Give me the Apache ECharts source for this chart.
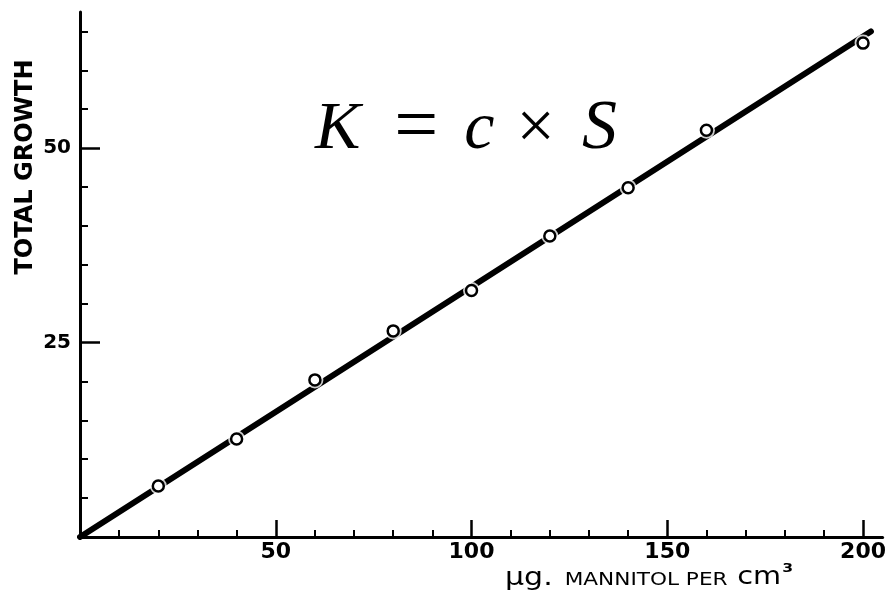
<!DOCTYPE html>
<html>
<head>
<meta charset="utf-8">
<script src="https://cdn.jsdelivr.net/npm/echarts@6/dist/echarts.min.js"></script>
<style>
  html, body { margin: 0; padding: 0; background: #fff; }
  #chart { width: 889px; height: 596px; }
</style>
</head>
<body>
<div id="chart"></div>
<script>
// Mannitol concentration (µg per cm³) and measured total growth
const mannitol = [20, 40, 60, 80, 100, 120, 140, 160, 200];
const growth = [6.55, 12.6, 20.2, 26.5, 31.7, 38.7, 44.9, 52.3, 63.5];

// Proportional fit line K = c × S, drawn through the origin
const fitX = [0, 202];
const fitY = [0, 65];

// Tick positions
const xMajorTicks = [50, 100, 150, 200];
const xMinorTicks = [10, 20, 30, 40, 60, 70, 80, 90, 110, 120, 130, 140, 160, 170, 180, 190];
const yMajorTicks = [25, 50];
const yMinorTicks = [5, 10, 15, 20, 30, 35, 40, 45, 55, 60, 65];

const points = mannitol.map((x, i) => [x, growth[i]]);
const fitLine = fitX.map((x, i) => [x, fitY[i]]);

const labelFont = { color: '#000', fontFamily: 'DejaVu Sans', fontWeight: 'bold' };

const chart = echarts.init(document.getElementById('chart'), null, { renderer: 'canvas' });

chart.setOption({
  animation: false,
  backgroundColor: '#fff',
  grid: { left: 80, right: 3.4, top: 12, bottom: 59, containLabel: false },
  xAxis: [
    {
      type: 'value', min: 0, max: 205, position: 'bottom',
      axisLine: { show: true, onZero: false, lineStyle: { color: '#000', width: 3 } },
      axisTick: { show: true, inside: true, length: 17, customValues: xMajorTicks,
        lineStyle: { color: '#000', width: 2.5 } },
      axisLabel: Object.assign({ customValues: xMajorTicks, fontSize: 22, margin: 4 }, labelFont),
      splitLine: { show: false }
    },
    {
      type: 'value', min: 0, max: 205, position: 'bottom',
      axisLine: { show: false, onZero: false },
      axisTick: { show: true, inside: true, length: 7, customValues: xMinorTicks,
        lineStyle: { color: '#000', width: 2 } },
      axisLabel: { show: false },
      splitLine: { show: false }
    }
  ],
  yAxis: [
    {
      type: 'value', min: 0, max: 67.5, position: 'left',
      axisLine: { show: true, onZero: false, lineStyle: { color: '#000', width: 3 } },
      axisTick: { show: true, inside: true, length: 20, customValues: yMajorTicks,
        lineStyle: { color: '#000', width: 2.5 } },
      axisLabel: Object.assign({ customValues: yMajorTicks, fontSize: 20, margin: 9 }, labelFont),
      splitLine: { show: false }
    },
    {
      type: 'value', min: 0, max: 67.5, position: 'left',
      axisLine: { show: false, onZero: false },
      axisTick: { show: true, inside: true, length: 8, customValues: yMinorTicks,
        lineStyle: { color: '#000', width: 2 } },
      axisLabel: { show: false },
      splitLine: { show: false }
    }
  ],
  series: [
    {
      name: 'fit', type: 'line', xAxisIndex: 0, yAxisIndex: 0,
      data: fitLine, symbol: 'none', silent: true, z: 2,
      lineStyle: { color: '#000', width: 6, cap: 'round' }
    },
    {
      name: 'gap', type: 'scatter', xAxisIndex: 0, yAxisIndex: 0,
      data: points, symbol: 'circle', symbolSize: 17, silent: true, z: 3,
      itemStyle: { color: '#fff', borderWidth: 0 }
    },
    {
      name: 'growth', type: 'scatter', xAxisIndex: 0, yAxisIndex: 0,
      data: points, symbol: 'circle', symbolSize: 11, z: 4,
      itemStyle: { color: '#fff', borderColor: '#000', borderWidth: 2.5, opacity: 1 }
    }
  ],
  graphic: [
    {
      type: 'text', x: 26, y: 167, rotation: Math.PI / 2, z: 10,
      style: {
        text: 'TOTAL GROWTH', fill: '#000', fontSize: 24, fontWeight: 'bold',
        fontFamily: 'DejaVu Sans', align: 'center', verticalAlign: 'middle'
      }
    },
    {
      type: 'text', x: 315, y: 130, z: 10,
      style: {
        text: '{v|K}{op|=}{v|c}{op2|×}{s|S}',
        fill: '#000', align: 'left', verticalAlign: 'middle',
        rich: {
          v: { fontSize: 68, fontStyle: 'italic', fontFamily: 'Liberation Serif', fill: '#000' },
          s: { fontSize: 70, fontStyle: 'italic', fontFamily: 'Liberation Serif', fill: '#000' },
          op: { fontSize: 78, fontFamily: 'Liberation Serif', fill: '#000', padding: [0, 26, 0, 34] },
          op2: { fontSize: 68, fontFamily: 'Liberation Serif', fill: '#000', padding: [0, 27, 0, 22] }
        }
      }
    },
    {
      type: 'text', x: 505, y: 578, z: 10, scaleX: 1.2,
      style: {
        text: '{mu|µg.}{sc|MANNITOL PER}{cm|cm}{sup|3}',
        fill: '#000', align: 'left', verticalAlign: 'middle',
        rich: {
          mu: { fontSize: 25, fontFamily: 'DejaVu Sans', fill: '#000', padding: [0, 10, 0, 0] },
          sc: { fontSize: 18, fontFamily: 'DejaVu Sans', fill: '#000', padding: [4, 8, 0, 0] },
          cm: { fontSize: 24, fontFamily: 'DejaVu Sans', fill: '#000' },
          sup: { fontSize: 13, fontFamily: 'DejaVu Sans', fill: '#000', fontWeight: 'bold', padding: [0, 0, 18, 1] }
        }
      }
    }
  ]
});
</script>
</body>
</html>
